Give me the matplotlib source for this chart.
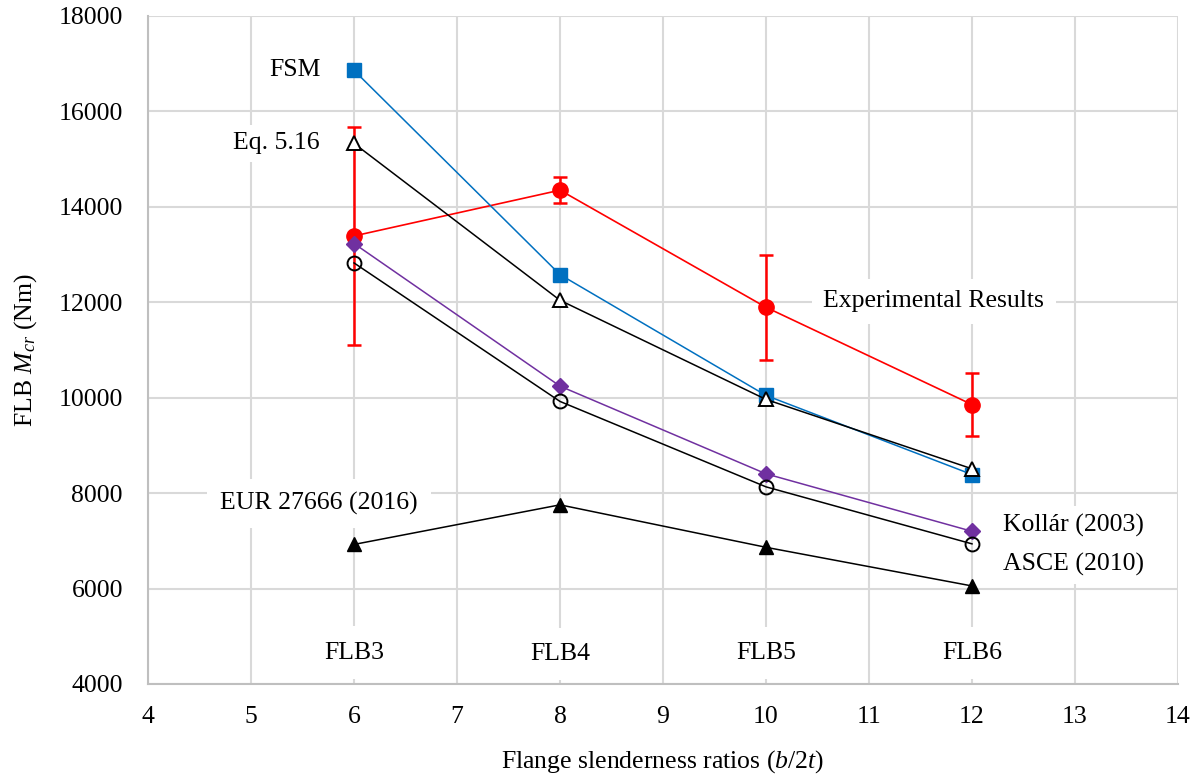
import numpy as np
import matplotlib
matplotlib.use("Agg")
import matplotlib.pyplot as plt

plt.rcParams['font.family'] = ['Liberation Serif', 'DejaVu Serif']
plt.rcParams['mathtext.fontset'] = 'custom'
plt.rcParams['mathtext.rm'] = 'Liberation Serif'
plt.rcParams['mathtext.it'] = 'Liberation Serif:italic'

# flange slenderness ratio b/2t
ratios = [6, 8, 10, 12]
specimens = ['FLB3', 'FLB4', 'FLB5', 'FLB6']

# FLB critical moments (Nm)
exp_mean = [13390, 14350, 11895, 9856]
exp_upper = [15680, 14636, 12986, 10525]
exp_lower = [11100, 14084, 10790, 9194]
fsm = [16860, 12580, 10048, 8390]
eq_516 = [15330, 12042, 9964, 8510]
kollar = [13232, 10243, 8405, 7200]
asce = [12825, 9922, 8132, 6937]
eur = [6925, 7755, 6865, 6055]

x = np.array(ratios)
yerr = np.array([np.array(exp_mean) - np.array(exp_lower),
                 np.array(exp_upper) - np.array(exp_mean)])

fig = plt.figure(figsize=(11.98, 7.76), dpi=100)
ax = fig.add_axes([148 / 1198, 1 - 684 / 776, 1030 / 1198, 668 / 776])

FS = 18.5
grid_c = '#d9d9d9'

# experimental results with scatter bars (drawn first, lowest)
ax.errorbar(x, exp_mean, yerr=yerr, color='#ff0000', lw=1.2, marker='o', ms=11,
            mec='#ff0000', mfc='#ff0000', elinewidth=1.8, capsize=5, capthick=1.8, zorder=4)
ax.plot(x, fsm, color='#0070c0', lw=1.1, marker='s', ms=10.5, mfc='#0070c0', mec='#0070c0', zorder=5)
ax.plot(x, eq_516, color='black', lw=1.1, marker='^', ms=10.5, mfc='white', mec='black', mew=1.4, zorder=6)
ax.plot(x, kollar, color='#7030a0', lw=1.1, marker='D', ms=8.5, mfc='#7030a0', mec='#7030a0', zorder=7)
ax.plot(x, asce, color='black', lw=1.1, marker='o', ms=10, mfc='none', mec='black', mew=1.4, zorder=8)
ax.plot(x, eur, color='black', lw=1.1, marker='^', ms=10.5, mfc='black', mec='black', zorder=9)

ax.set_xlim(4, 14)
ax.set_ylim(4000, 18000)
ax.set_xticks(np.arange(4, 15, 1))
ax.set_yticks(np.arange(4000, 18001, 2000))
ax.tick_params(axis='both', length=0, labelsize=FS)
ax.tick_params(axis='x', pad=16)
ax.tick_params(axis='y', pad=18)

ax.grid(True, color=grid_c, lw=1.5)
ax.set_axisbelow(True)
for side in ['top', 'right']:
    ax.spines[side].set_visible(False)
for side in ['left', 'bottom']:
    ax.spines[side].set_color('#bfbfbf')
    ax.spines[side].set_linewidth(1.5)

ax.set_ylabel('FLB $M_{cr}$ (Nm)', fontsize=FS, labelpad=14)
ax.set_xlabel('Flange slenderness ratios ($\\mathit{b/2t}$)', fontsize=FS, labelpad=14)

box = dict(boxstyle='square,pad=0.3', fc='white', ec='none')
ax.text(5.68, 16870, 'FSM', ha='right', va='center', fontsize=FS, bbox=box, zorder=3)
ax.text(5.67, 15330, 'Eq. 5.16', ha='right', va='center', fontsize=FS, bbox=box, zorder=3)
ax.text(11.63, 12020, 'Experimental Results', ha='center', va='center', fontsize=FS,
        bbox=dict(boxstyle='square,pad=0.45', fc='white', ec='none'), zorder=3)
ax.text(12.30, 7320, 'Kollár (2003)', ha='left', va='center', fontsize=FS, bbox=box, zorder=3)
ax.text(12.30, 6500, 'ASCE (2010)', ha='left', va='center', fontsize=FS, bbox=box, zorder=3)
ax.text(5.66, 7780, 'EUR 27666 (2016)', ha='center', va='center', fontsize=FS,
        bbox=dict(boxstyle='square,pad=0.5', fc='white', ec='none'), zorder=3)

flb_y = [4660, 4630, 4650, 4650]
for xi, yi, name in zip(ratios, flb_y, specimens):
    ax.text(xi, yi, name, ha='center', va='center', fontsize=FS,
            bbox=dict(boxstyle='square,pad=0.6', fc='white', ec='none'), zorder=3)

fig.savefig('out.png', dpi=100)
